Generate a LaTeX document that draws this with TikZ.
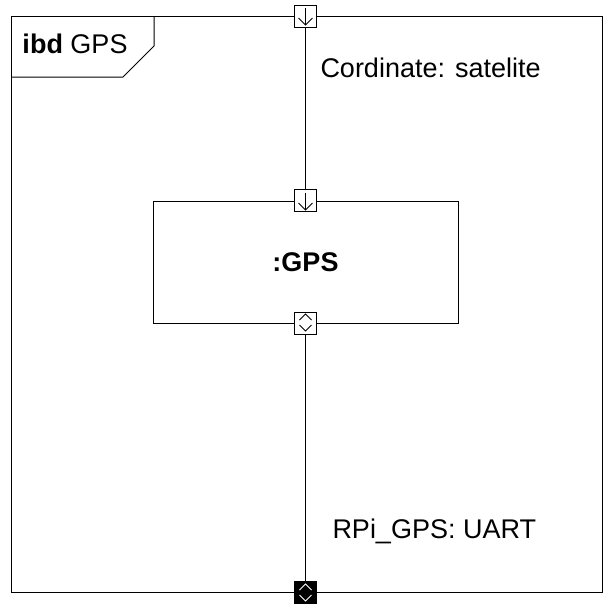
\documentclass[tikz,border=0pt]{standalone}
\usepackage{fontspec}
\setmainfont{Liberation Sans}
\begin{document}
\begin{tikzpicture}[x=1pt,y=-1pt,line width=1pt,
    port/.style={draw,fill=white,minimum size=22pt,inner sep=0pt},
    lbl/.style={font=\fontsize{27}{32}\selectfont}]
    \useasboundingbox (0,0) rectangle (611,611);
    \draw (11,16) rectangle (602,592); %Frame
    \draw (11,77) -- (123,77) -- (154,46) -- (154,16);
    \node[lbl,anchor=base west,inner sep=0pt] (title) at (22,53) {\textbf{ibd} GPS};
    \node[draw,lbl,minimum width=305pt,minimum height=122pt] (gps) at (305.5,262) {\textbf{:GPS}};
    \node[port] (in) at (305.5,16) {};
    \node[port] (gpsin) at (gps.north) {};
    \node[port] (gpsio) at (gps.south) {};
    \node[port,fill=black] (out) at (305.5,592) {};
    \draw (in) -- (gpsin);
    \draw (gpsio) -- (out);
    \foreach \y in {16,201} {
      \draw (305.5,\y-8) -- (305.5,\y+9);
      \draw (298.5,\y+2) -- (305.5,\y+9) -- (312.5,\y+2);
    }
    \draw (299.5,320) -- (305.5,314) -- (311.5,320) (299.5,325) -- (305.5,331) -- (311.5,325);
    \draw[white] (299.5,590) -- (305.5,584) -- (311.5,590) (299.5,595) -- (305.5,601) -- (311.5,595);
    \node[lbl,anchor=base west,inner sep=0pt] (cord) at (320,77) {Cordinate: satelite};
    \node[lbl,anchor=base west,inner sep=0pt] (uart) at (332,538) {RPi\_GPS: UART};
\end{tikzpicture}
\end{document}
